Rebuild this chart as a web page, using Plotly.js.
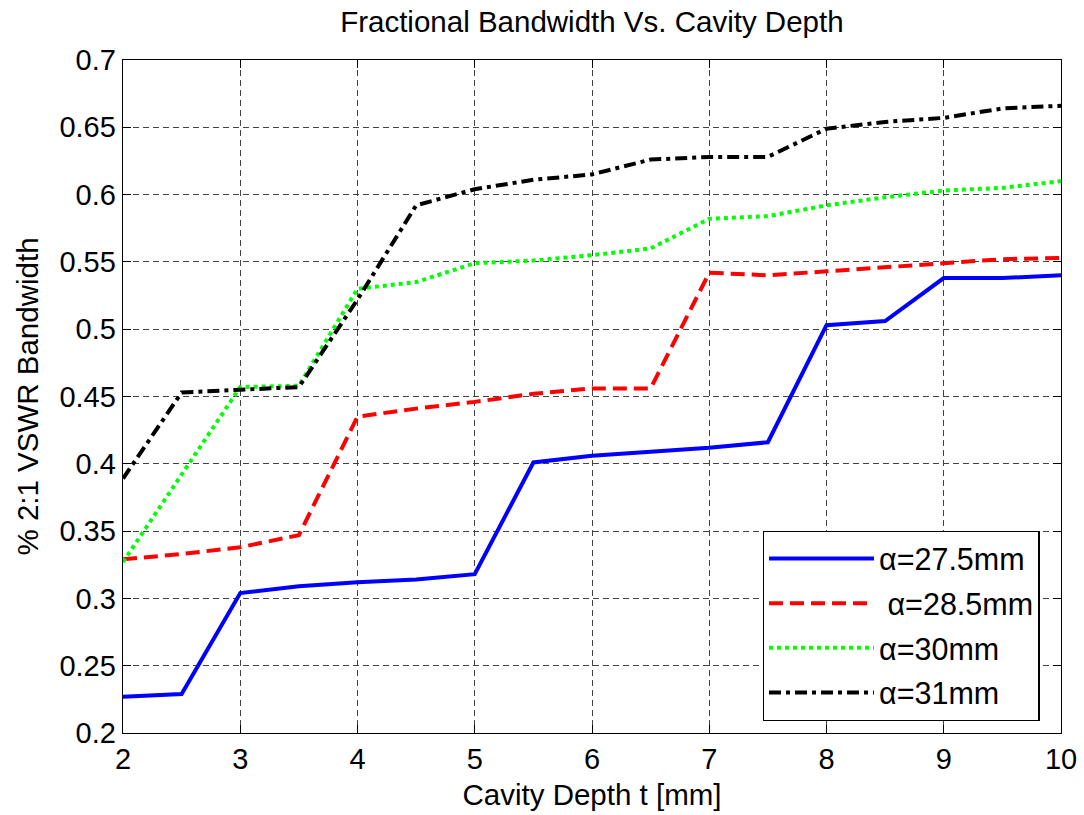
<!DOCTYPE html>
<html>
<head>
<meta charset="utf-8">
<script src="https://cdn.plot.ly/plotly-3.0.1.min.js"></script>
<style>html,body{margin:0;padding:0;background:#fff;}#chart{width:1084px;height:815px;}</style>
</head>
<body>
<div id="chart"></div>
<script>
var depth = [2, 2.5, 3, 3.5, 4, 4.5, 5, 5.5, 6, 6.5, 7, 7.5, 8, 8.5, 9, 9.5, 10];
var bw275 = [0.227, 0.229, 0.304, 0.309, 0.312, 0.314, 0.318, 0.401, 0.406, 0.409, 0.412, 0.416, 0.503, 0.506, 0.538, 0.538, 0.540];
var bw285 = [0.329, 0.333, 0.338, 0.347, 0.435, 0.441, 0.446, 0.452, 0.456, 0.456, 0.542, 0.540, 0.543, 0.546, 0.549, 0.552, 0.553];
var bw30  = [0.327, 0.392, 0.457, 0.458, 0.530, 0.535, 0.549, 0.551, 0.555, 0.560, 0.582, 0.584, 0.592, 0.598, 0.603, 0.605, 0.610];
var bw31  = [0.389, 0.453, 0.455, 0.457, 0.522, 0.592, 0.604, 0.611, 0.615, 0.626, 0.628, 0.628, 0.649, 0.654, 0.657, 0.664, 0.666];
var seriesNames = ['\u03b1=27.5mm', '\u00a0\u03b1=28.5mm', '\u03b1=30mm', '\u03b1=31mm'];
var xTicks = [2, 3, 4, 5, 6, 7, 8, 9, 10];
var yTicks = [0.2, 0.25, 0.3, 0.35, 0.4, 0.45, 0.5, 0.55, 0.6, 0.65, 0.7];
var yTickText = ['0.2', '0.25', '0.3', '0.35', '0.4', '0.45', '0.5', '0.55', '0.6', '0.65', '0.7'];

var FONT = 'Arial, "Liberation Sans", Helvetica, sans-serif';
var styles = [
  {color: '#0000ff', dash: 'solid'},
  {color: '#ff0000', dash: '14px,7px'},
  {color: '#00ff00', dash: '4px,4px'},
  {color: '#000000', dash: '12px,5px,4px,5px'}
];
var ys = [bw275, bw285, bw30, bw31];
var traces = ys.map(function (y, i) {
  return {
    x: depth, y: y, type: 'scatter', mode: 'lines',
    name: seriesNames[i], legendgroup: 'g' + i,
    line: {color: styles[i].color, width: 4, dash: styles[i].dash}
  };
});

var axisCommon = {
  showline: true, linecolor: '#000', linewidth: 1.3, mirror: 'allticks',
  ticks: 'inside', ticklen: 8, tickcolor: '#000', tickwidth: 1,
  showgrid: true, gridcolor: '#444', gridwidth: 1, griddash: '6px,4px',
  zeroline: false, tickfont: {family: FONT, size: 29, color: '#000'}
};

var layout = {
  width: 1084, height: 815,
  margin: {l: 123, r: 23, t: 60, b: 82},
  paper_bgcolor: '#fff', plot_bgcolor: '#fff',
  title: {text: 'Fractional Bandwidth Vs. Cavity Depth', font: {family: FONT, size: 29.5, color: '#000'},
          x: 0.546, xanchor: 'center', y: 0.973, yanchor: 'middle'},
  xaxis: Object.assign({}, axisCommon, {
    range: [2, 10], tickvals: xTicks, ticktext: xTicks.map(String),
    title: {text: 'Cavity Depth t [mm]', font: {family: FONT, size: 29.5, color: '#000'}, standoff: 10}
  }),
  yaxis: Object.assign({}, axisCommon, {
    range: [0.2, 0.7], tickvals: yTicks, ticktext: yTickText,
    title: {text: '% 2:1 VSWR Bandwidth', font: {family: FONT, size: 29.5, color: '#000'}, standoff: 12}
  }),
  showlegend: true,
  legend: {
    x: 0.682, y: 0.018, xanchor: 'left', yanchor: 'bottom',
    bgcolor: '#fff', bordercolor: '#000', borderwidth: 1.3,
    font: {family: FONT, size: 30.5, color: '#000'},
    itemwidth: 105, traceorder: 'grouped', tracegroupgap: 2
  }
};

Plotly.newPlot('chart', traces, layout, {displayModeBar: false, staticPlot: true});
</script>
</body>
</html>
